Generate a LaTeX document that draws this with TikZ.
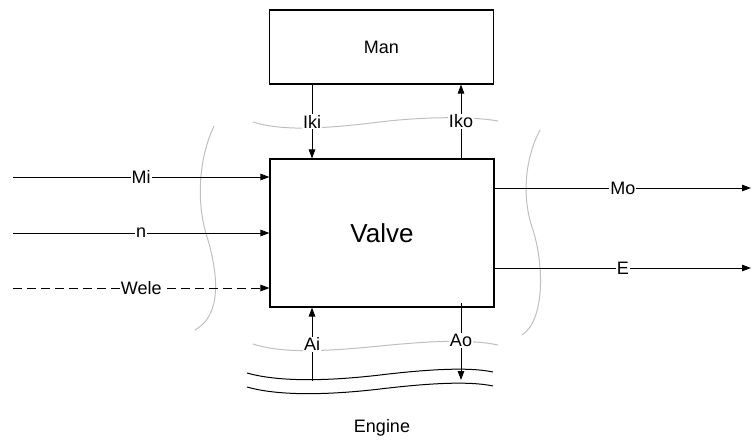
\documentclass[tikz,border=0pt]{standalone}
\usepackage{fontspec}
\setmainfont{Liberation Sans}
\usetikzlibrary{arrows.meta}
\begin{document}
\begin{tikzpicture}[x=1pt,y=-1pt,
  box/.style={draw,line width=1.1pt,minimum width=224pt,inner sep=0pt},
  arr/.style={line width=0.9pt,-{Triangle[length=9pt,width=6.5pt]}},
  lbl/.style={fill=white,inner sep=1pt,font=\fontsize{18}{20}\selectfont},
  wave/.style={draw=black!25,line width=1pt},
  pipe/.style={draw=black,line width=1pt}]
\useasboundingbox (0,0) rectangle (752,439);
% gray system boundaries
\draw[wave] (253,122) .. controls (285,132) and (330,128) .. (380,122) .. controls (420,117) and (470,116) .. (498,121);
\draw[wave] (253,344) .. controls (280,353) and (320,352) .. (380,346) .. controls (430,341) and (470,339) .. (498,345);
\draw[wave] (214,126) .. controls (198,160) and (196,205) .. (208,240) .. controls (218,275) and (222,315) .. (195,330);
\draw[wave] (540,130) .. controls (524,160) and (522,200) .. (533,230) .. controls (544,265) and (545,320) .. (522,335);
% engine pipe
\draw[pipe] (247,373) .. controls (275,381) and (320,382) .. (380,375) .. controls (430,369) and (470,367) .. (493,372);
\draw[pipe] (247,387) .. controls (275,395) and (320,396) .. (380,389) .. controls (430,383) and (470,381) .. (493,386);
% boxes
\node[box,minimum height=74pt] (man) at (381.5,47) {\fontsize{18}{20}\selectfont Man};
\node[box,minimum height=148pt] (valve) at (382,233) {\fontsize{26}{30}\selectfont Valve};
\node[font=\fontsize{18}{20}\selectfont] (engine) at (382,428) {Engine};
% coordinates
\coordinate (iki) at (312,122);
\coordinate (iko) at (461,122);
\coordinate (mi0) at (13,177);
\coordinate (n0) at (13,233);
\coordinate (w0) at (13,288);
\coordinate (mo1) at (751,188);
\coordinate (e1) at (751,268);
\coordinate (ai0) at (312,381);
\coordinate (ao0) at (461,303);
\coordinate (ao1) at (461,380);
% top connectors
\draw[arr] (man.south -| iki) -- node[lbl]{Iki} (valve.north -| iki);
\draw[arr] (valve.north -| iko) -- node[lbl]{Iko} (man.south -| iko);
% left inputs
\draw[arr] (mi0) -- node[lbl]{Mi} (mi0 -| valve.west);
\draw[arr] (n0) -- node[lbl]{n} (n0 -| valve.west);
\draw[arr,dash pattern=on 9pt off 5pt] (w0) -- node[lbl]{Wele} (w0 -| valve.west);
% right outputs
\draw[arr] (mo1 -| valve.east) -- node[lbl]{Mo} (mo1);
\draw[arr] (e1 -| valve.east) -- node[lbl]{E} (e1);
% bottom
\draw[arr] (ai0) -- node[lbl]{Ai} (valve.south -| ai0);
\draw[arr] (ao0) -- node[lbl,pos=0.49]{Ao} (ao1);
\end{tikzpicture}
\end{document}
